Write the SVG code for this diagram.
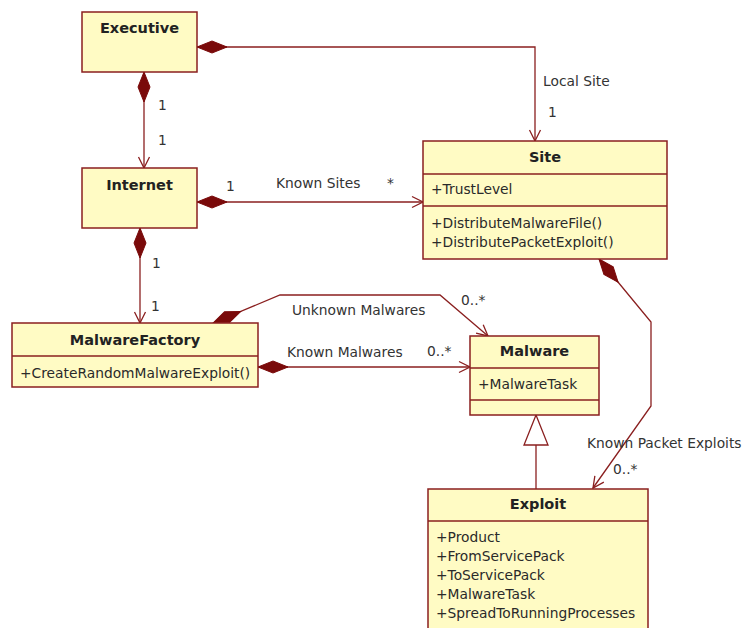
<svg xmlns="http://www.w3.org/2000/svg" width="744" height="628" viewBox="0 0 744 628">
  <style>
    .box { fill: #FFFBC4; stroke: #8A1F1F; stroke-width: 1.5; }
    .sep { stroke: #8A1F1F; stroke-width: 1.5; }
    .name { font-family: "DejaVu Sans", sans-serif; font-size: 14.5px; font-weight: bold; fill: #222; text-anchor: middle; }
    .member { font-family: "DejaVu Sans", sans-serif; font-size: 13.8px; fill: #2a2a2a; }
    .label { font-family: "DejaVu Sans", sans-serif; font-size: 13.8px; fill: #333; }
    .conn { fill: none; stroke: #8A1F1F; stroke-width: 1.3; }
  </style>
  <defs>
    <marker id="diamond" markerUnits="userSpaceOnUse" markerWidth="32" markerHeight="14" viewBox="-1 -7 32 14" refX="0" refY="0" orient="auto">
      <path d="M0,0 L15,-6 L30,0 L15,6 Z" fill="#7A0A0A" stroke="#7A0A0A" stroke-width="1"/>
    </marker>
    <marker id="open" markerUnits="userSpaceOnUse" markerWidth="14" markerHeight="14" viewBox="-13 -7 14 14" refX="0" refY="0" orient="auto">
      <path d="M-11,-5.5 L0,0 L-11,5.5" fill="none" stroke="#8A1F1F" stroke-width="1.3"/>
    </marker>
  </defs>
  <rect width="744" height="628" fill="#FFFFFF"/>

  <!-- associations -->
  <g id="connectors">
    <path class="conn" d="M197,47 L535,47 L535,141" marker-start="url(#diamond)" marker-end="url(#open)"/>
    <path class="conn" d="M144,72 L144,168" marker-start="url(#diamond)" marker-end="url(#open)"/>
    <path class="conn" d="M197,202 L423,202" marker-start="url(#diamond)" marker-end="url(#open)"/>
    <path class="conn" d="M140,228 L140,323" marker-start="url(#diamond)" marker-end="url(#open)"/>
    <path class="conn" d="M213,323 L280,295 L440,295 L488,336" marker-start="url(#diamond)" marker-end="url(#open)"/>
    <path class="conn" d="M258,367 L470,367" marker-start="url(#diamond)" marker-end="url(#open)"/>
    <path class="conn" d="M599,259 L651,322 L651,406 L593,488" marker-start="url(#diamond)" marker-end="url(#open)"/>
    <!-- generalization Exploit -> Malware -->
    <path class="conn" d="M536,489 L536,445"/>
    <path d="M536,415 L548,445 L524,445 Z" fill="#FFFFFF" stroke="#8A1F1F" stroke-width="1.3"/>

    <text class="label" x="543" y="86">Local Site</text>
    <text class="label" x="548" y="117">1</text>
    <text class="label" x="158" y="110">1</text>
    <text class="label" x="158" y="145">1</text>
    <text class="label" x="226" y="191">1</text>
    <text class="label" x="276" y="188">Known Sites</text>
    <text class="label" x="387" y="188">*</text>
    <text class="label" x="152" y="268">1</text>
    <text class="label" x="151" y="311">1</text>
    <text class="label" x="292" y="315">Unknown Malwares</text>
    <text class="label" x="461" y="305">0..*</text>
    <text class="label" x="287" y="357">Known Malwares</text>
    <text class="label" x="427" y="356">0..*</text>
    <text class="label" x="587" y="448">Known Packet Exploits</text>
    <text class="label" x="613" y="474">0..*</text>
  </g>

  <g id="Executive">
    <rect class="box" x="82" y="12" width="115" height="60"/>
    <text class="name" x="139.5" y="33">Executive</text>
  </g>

  <g id="Internet">
    <rect class="box" x="82" y="168" width="115" height="60"/>
    <text class="name" x="139.5" y="190">Internet</text>
  </g>

  <g id="Site">
    <rect class="box" x="423" y="141" width="244" height="118"/>
    <line class="sep" x1="423" y1="174" x2="667" y2="174"/>
    <line class="sep" x1="423" y1="206" x2="667" y2="206"/>
    <text class="name" x="545" y="162">Site</text>
    <text class="member" x="431" y="194">+TrustLevel</text>
    <text class="member" x="431" y="228">+DistributeMalwareFile()</text>
    <text class="member" x="431" y="247">+DistributePacketExploit()</text>
  </g>

  <g id="MalwareFactory">
    <rect class="box" x="12" y="323" width="246" height="64"/>
    <line class="sep" x1="12" y1="356" x2="258" y2="356"/>
    <text class="name" x="135" y="345">MalwareFactory</text>
    <text class="member" x="20" y="378">+CreateRandomMalwareExploit()</text>
  </g>

  <g id="Malware">
    <rect class="box" x="470" y="336" width="129" height="79"/>
    <line class="sep" x1="470" y1="368" x2="599" y2="368"/>
    <line class="sep" x1="470" y1="400" x2="599" y2="400"/>
    <text class="name" x="534.5" y="356">Malware</text>
    <text class="member" x="478" y="389">+MalwareTask</text>
  </g>

  <g id="Exploit">
    <rect class="box" x="428" y="489" width="220" height="150"/>
    <line class="sep" x1="428" y1="521" x2="648" y2="521"/>
    <text class="name" x="538" y="509">Exploit</text>
    <text class="member" x="436" y="542">+Product</text>
    <text class="member" x="436" y="561">+FromServicePack</text>
    <text class="member" x="436" y="580">+ToServicePack</text>
    <text class="member" x="436" y="599">+MalwareTask</text>
    <text class="member" x="436" y="618">+SpreadToRunningProcesses</text>
  </g>
</svg>
